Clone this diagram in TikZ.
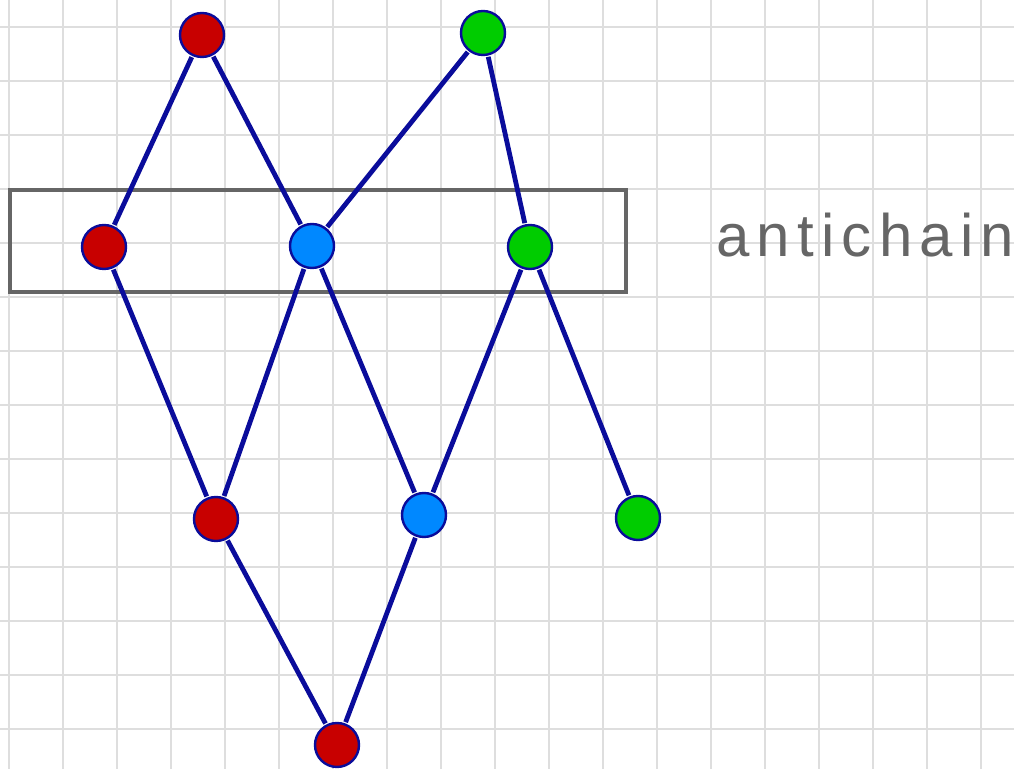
\documentclass[tikz,border=0pt]{standalone}
\usepackage{fontspec}
\newfontfamily\handfont[LetterSpace=12]{Liberation Sans}
\usetikzlibrary{positioning}
\definecolor{linkblue}{RGB}{10,12,155}
\definecolor{dotred}{RGB}{200,0,0}
\definecolor{dotblue}{RGB}{0,136,255}
\definecolor{dotgreen}{RGB}{0,204,0}
\definecolor{boxgray}{RGB}{102,102,102}
\definecolor{gridgray}{RGB}{222,222,222}

\begin{document}
\begin{tikzpicture}[x=0.5pt, y=-0.5pt,
  dot/.style={circle, draw=linkblue, line width=1.2pt, minimum size=22pt, inner sep=0pt, outer sep=1.2pt},
  link/.style={draw=linkblue, line width=2.4pt},
  grp/.style={draw=boxgray, line width=2pt}]
\useasboundingbox (0,0) rectangle (1014,769);
\fill[white] (0,0) rectangle (1014,769);
% background grid
\foreach \gx in {0,...,18} \draw[gridgray, line width=0.8pt] (9+54*\gx,0) -- (9+54*\gx,769);
\foreach \gy in {0,...,13} \draw[gridgray, line width=0.8pt] (0,27+54*\gy) -- (1014,27+54*\gy);

% the antichain box
\node[grp, minimum width=308pt, minimum height=51pt, inner sep=0pt] (chain) at (318,241) {};
\node[text=boxgray, font=\handfont\fontsize{30}{32}\selectfont, anchor=base west, inner sep=0pt] (lbl) at (716,257) {antichain};

% elements
\node[dot, fill=dotred]   (rtop) at (202,35)  {};
\node[dot, fill=dotgreen] (gtop) at (483,33)  {};
\node[dot, fill=dotred]   (rmid) at (104,247) {};
\node[dot, fill=dotblue]  (bmid) at (312,246) {};
\node[dot, fill=dotgreen] (gmid) at (530,247) {};
\node[dot, fill=dotred]   (rlow) at (216,519) {};
\node[dot, fill=dotblue]  (blow) at (424,515) {};
\node[dot, fill=dotgreen] (glow) at (638,518) {};
\node[dot, fill=dotred]   (rbot) at (337,745) {};

% covering relations
\draw[link] (rtop) -- (rmid);
\draw[link] (rtop) -- (bmid);
\draw[link] (gtop) -- (bmid);
\draw[link] (gtop) -- (gmid);
\draw[link] (rmid) -- (rlow);
\draw[link] (bmid) -- (rlow);
\draw[link] (bmid) -- (blow);
\draw[link] (gmid) -- (blow);
\draw[link] (gmid) -- (glow);
\draw[link] (rlow) -- (rbot);
\draw[link] (blow) -- (rbot);
\end{tikzpicture}
\end{document}
